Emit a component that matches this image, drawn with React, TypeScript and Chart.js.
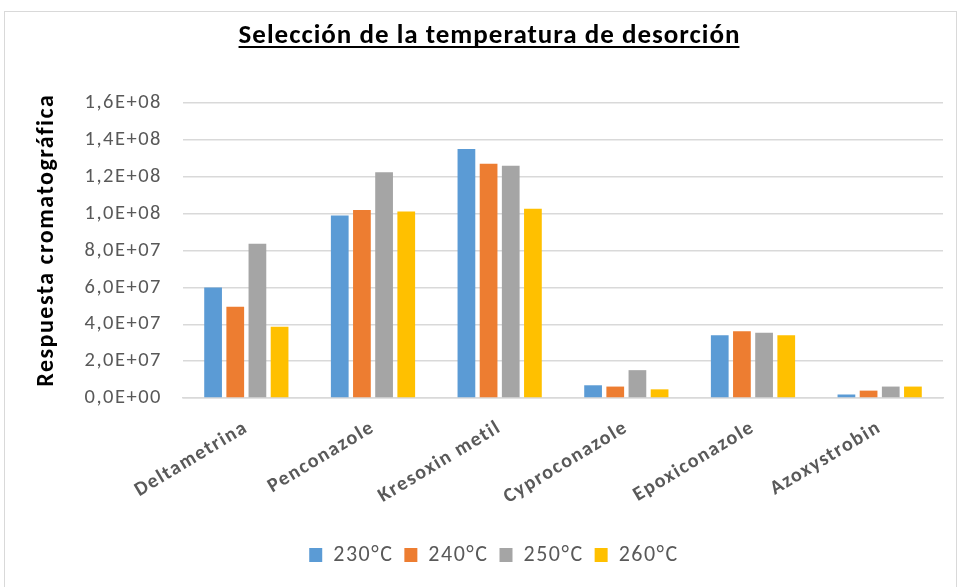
import React, { useEffect, useRef } from "react";
import { Chart, registerables } from "chart.js";

Chart.register(...registerables);

const categories = ["Deltametrina", "Penconazole", "Kresoxin metil", "Cyproconazole", "Epoxiconazole", "Azoxystrobin"];
const series230 = [6.0e7, 9.9e7, 1.35e8, 6.9e6, 3.4e7, 1.9e6];
const series240 = [4.95e7, 1.02e8, 1.27e8, 6.2e6, 3.62e7, 4.0e6];
const series250 = [8.37e7, 1.225e8, 1.26e8, 1.51e7, 3.54e7, 6.2e6];
const series260 = [3.86e7, 1.012e8, 1.027e8, 4.7e6, 3.4e7, 6.2e6];
const seriesLabels = ["230°C", "240°C", "250°C", "260°C"];
const titleText = "Selección de la temperatura de desorción";
const yTitle = "Respuesta cromatográfica";

const FONT = "Carlito, Calibri, 'Liberation Sans', sans-serif";
const SPACING = "1.5px";

const fmt = (v: number) => {
  const s = v.toExponential(1).replace(".", ",");
  return s.replace(/e([+-])(\d+)/, (_m: string, sg: string, d: string) => "E" + sg + d.padStart(2, "0"));
};

const spacing = {
  id: "spacing",
  beforeInit(chart: any) { chart.ctx.letterSpacing = SPACING; },
  beforeUpdate(chart: any) { chart.ctx.letterSpacing = SPACING; },
  beforeLayout(chart: any) { chart.ctx.letterSpacing = SPACING; },
  beforeDraw(chart: any) { chart.ctx.letterSpacing = SPACING; },
};

const decor = {
  id: "decor",
  afterDraw(chart: any) {
    const ctx = chart.ctx;
    ctx.save();
    ctx.strokeStyle = "#d9d9d9";
    ctx.lineWidth = 1;
    ctx.strokeRect(4.5, 11.5, 952, 590);
    // chart title, underlined
    ctx.letterSpacing = "1px";
    ctx.font = "bold 27px " + FONT;
    ctx.fillStyle = "#000";
    ctx.textAlign = "left";
    ctx.textBaseline = "alphabetic";
    const w = ctx.measureText(titleText).width - 1;
    const cx = 489;
    const by = 43;
    ctx.fillText(titleText, cx - w / 2, by);
    ctx.fillRect(cx - w / 2, by + 3, w, 2);
    // y axis title
    ctx.letterSpacing = "1.5px";
    ctx.font = "bold 24px " + FONT;
    const w2 = ctx.measureText(yTitle).width - 1.5;
    ctx.translate(47, 241);
    ctx.rotate(-Math.PI / 2);
    ctx.textBaseline = "middle";
    ctx.fillText(yTitle, -w2 / 2, 0);
    ctx.restore();
  },
};

export default function App() {
  const ref = useRef<HTMLCanvasElement>(null);
  useEffect(() => {
    if (!ref.current) return;
    const colors = ["#5B9BD5", "#ED7D31", "#A5A5A5", "#FFC000"];
    const data = [series230, series240, series250, series260];
    const chart = new Chart(ref.current, {
      type: "bar",
      data: {
        labels: categories,
        datasets: data.map((d, i) => ({
          label: seriesLabels[i],
          data: d,
          backgroundColor: colors[i],
          categoryPercentage: 0.7,
          barPercentage: 0.8,
        })),
      },
      plugins: [spacing, decor],
      options: {
        animation: false,
        responsive: false,
        maintainAspectRatio: false,
        layout: { padding: { top: 103, right: 17, bottom: 11, left: 45 } },
        plugins: {
          legend: {
            position: "bottom",
            labels: {
              boxWidth: 13,
              boxHeight: 14,
              padding: 11,
              color: "#595959",
              font: { family: FONT, size: 22 },
            },
          },
          tooltip: { enabled: false },
          title: { display: false },
        },
        scales: {
          x: {
            grid: { display: false, drawTicks: false },
            border: { display: true, color: "#d9d9d9", width: 1.5 },
            ticks: {
              minRotation: 31,
              maxRotation: 31,
              padding: 18,
              color: "#595959",
              font: { family: FONT, size: 20, weight: "bold" },
            },
            afterFit(scale: any) {
              scale.height = 135;
            },
          },
          y: {
            min: 0,
            max: 1.6e8,
            grid: { color: "#d9d9d9", lineWidth: 1.5, drawTicks: false },
            border: { display: false },
            ticks: {
              stepSize: 2e7,
              padding: 21,
              color: "#595959",
              font: { family: FONT, size: 20.5 },
              callback: (v: any) => fmt(Number(v)),
            },
            title: { display: false },
            afterFit(scale: any) {
              scale.width = 138;
            },
          },
        },
      },
    });
    return () => chart.destroy();
  }, []);
  return (
    <div style={{ position: "absolute", left: 0, top: 0, width: 960, height: 587, background: "#fff" }}>
      <canvas ref={ref} width={960} height={587} style={{ width: 960, height: 587 }} />
    </div>
  );
}
